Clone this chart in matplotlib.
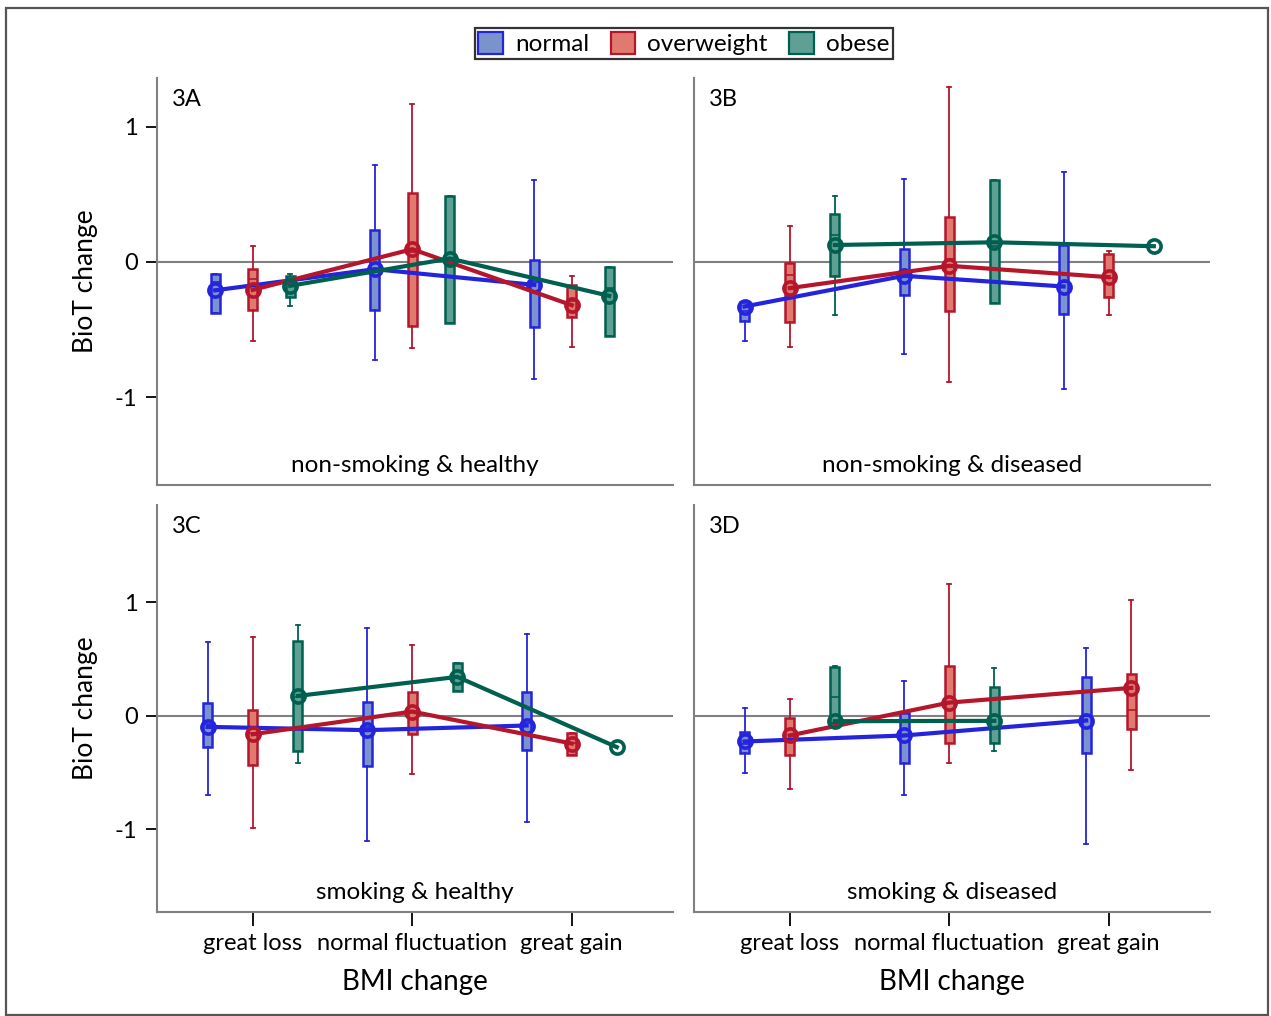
import matplotlib.pyplot as plt
from matplotlib.patches import Patch, Rectangle

plt.rcParams['font.family'] = ['Lato', 'DejaVu Sans']

categories = ['great loss', 'normal fluctuation', 'great gain']
groups = ['normal', 'overweight', 'obese']
panel_ids = ['3A', '3B', '3C', '3D']
panel_titles = ['non-smoking & healthy', 'non-smoking & diseased',
                'smoking & healthy', 'smoking & diseased']

# box stats per panel / group / category: (whislo, q1, med, q3, whishi)
# None = no box drawn (single point or no data)
box_A_normal = [(-0.38, -0.38, -0.15, -0.09, -0.09), (-0.725, -0.356, -0.05, 0.234, 0.714), (-0.863, -0.484, -0.15, 0.012, 0.605)]
box_A_over = [(-0.585, -0.356, -0.13, -0.054, 0.118), (-0.635, -0.472, 0.07, 0.512, 1.169), (-0.627, -0.406, -0.29, -0.17, -0.108)]
box_A_obese = [(-0.327, -0.256, -0.157, -0.108, -0.086), (-0.45, -0.45, 0.0, 0.485, 0.485), (-0.548, -0.548, -0.19, -0.037, -0.037)]
mean_A_normal = [-0.21, -0.054, -0.17]
mean_A_over = [-0.207, 0.094, -0.32]
mean_A_obese = [-0.177, 0.025, -0.251]

box_B_normal = [(-0.585, -0.44, -0.36, -0.3, -0.3), (-0.683, -0.246, -0.08, 0.096, 0.615), (-0.937, -0.386, -0.15, 0.125, 0.664)]
box_B_over = [(-0.627, -0.445, -0.1, -0.01, 0.263), (-0.888, -0.366, 0.02, 0.335, 1.294), (-0.396, -0.258, -0.12, 0.057, 0.081)]
box_B_obese = [(-0.396, -0.108, 0.2, 0.357, 0.485), (-0.307, -0.307, 0.12, 0.603, 0.603), None]
mean_B_normal = [-0.33, -0.103, -0.182]
mean_B_over = [-0.194, -0.029, -0.113]
mean_B_obese = [0.125, 0.145, 0.116]

box_C_normal = [(-0.699, -0.279, -0.07, 0.115, 0.655), (-1.107, -0.44, -0.1, 0.123, 0.778), (-0.934, -0.3, -0.06, 0.214, 0.725)]
box_C_over = [(-0.99, -0.432, -0.15, 0.05, 0.699), (-0.511, -0.159, 0.03, 0.214, 0.623), (-0.349, -0.349, -0.24, -0.147, -0.147)]
box_C_obese = [(-0.42, -0.314, 0.17, 0.661, 0.802), (0.22, 0.22, 0.344, 0.467, 0.467), None]
mean_C_normal = [-0.097, -0.126, -0.085]
mean_C_over = [-0.162, 0.038, -0.244]
mean_C_obese = [0.176, 0.344, -0.276]

box_D_normal = [(-0.508, -0.329, -0.25, -0.138, 0.073), (-0.699, -0.42, -0.17, 0.021, 0.311), (-1.13, -0.329, 0.0, 0.346, 0.596)]
box_D_over = [(-0.646, -0.341, -0.12, -0.015, 0.153), (-0.417, -0.241, 0.05, 0.443, 1.163), (-0.478, -0.12, 0.055, 0.373, 1.025)]
box_D_obese = [(-0.064, -0.064, 0.17, 0.429, 0.44), (-0.314, -0.238, 0.0, 0.253, 0.426), None]
mean_D_normal = [-0.226, -0.173, -0.041]
mean_D_over = [-0.173, 0.117, 0.247]
mean_D_obese = [-0.047, -0.044, None]

boxes = {
    '3A': [box_A_normal, box_A_over, box_A_obese],
    '3B': [box_B_normal, box_B_over, box_B_obese],
    '3C': [box_C_normal, box_C_over, box_C_obese],
    '3D': [box_D_normal, box_D_over, box_D_obese],
}
means = {
    '3A': [mean_A_normal, mean_A_over, mean_A_obese],
    '3B': [mean_B_normal, mean_B_over, mean_B_obese],
    '3C': [mean_C_normal, mean_C_over, mean_C_obese],
    '3D': [mean_D_normal, mean_D_over, mean_D_obese],
}

line_colors = ['#2424dc', '#b5162c', '#006050']
fill_colors = ['#7a93cd', '#e07a6e', '#5ea094']
step = {'3A': 0.235, '3B': 0.283, '3C': 0.283, '3D': 0.283}
ylims = [(-1.65, 1.36), (-1.65, 1.36), (-1.73, 1.86), (-1.73, 1.86)]

fig = plt.figure(figsize=(12.71, 10.16), dpi=100)
fig.patches.append(Rectangle((0.005, 0.001), 0.993, 0.991, transform=fig.transFigure,
                             fill=False, edgecolor='#555555', linewidth=1.6))

lefts = [157 / 1271, 694 / 1271, 157 / 1271, 694 / 1271]
bottoms = [1 - 485 / 1016, 1 - 485 / 1016, 1 - 912 / 1016, 1 - 912 / 1016]
w, h = 516 / 1271, 407 / 1016

for k, pid in enumerate(panel_ids):
    ax = fig.add_axes([lefts[k], bottoms[k], w, h])
    # positions: boxes of a category centred on its tick
    pos = [[None] * 3 for _ in groups]
    for c in range(3):
        present = [g for g in range(3) if means[pid][g][c] is not None]
        n = len(present)
        for i, g in enumerate(present):
            pos[g][c] = c + 1 + (i - (n - 1) / 2) * step[pid]

    ax.axhline(0, color='#808080', lw=1.5, zorder=1)
    for g in range(3):
        stats, bpos = [], []
        for c in range(3):
            b = boxes[pid][g][c]
            if b is None:
                continue
            stats.append(dict(whislo=b[0], q1=b[1], med=b[2], q3=b[3], whishi=b[4], fliers=[]))
            bpos.append(pos[g][c])
        lc, fc = line_colors[g], fill_colors[g]
        ax.bxp(stats, positions=bpos, widths=0.057, patch_artist=True, showfliers=False,
               capwidths=0.025, manage_ticks=False,
               boxprops=dict(facecolor=fc, edgecolor=lc, linewidth=1.8),
               medianprops=dict(color=lc, linewidth=1.2),
               whiskerprops=dict(color=lc, linewidth=1.3),
               capprops=dict(color=lc, linewidth=1.3), zorder=2)
        xs = [pos[g][c] for c in range(3) if means[pid][g][c] is not None]
        ys = [means[pid][g][c] for c in range(3) if means[pid][g][c] is not None]
        ax.plot(xs, ys, color=lc, lw=3, marker='o', ms=9.5, mfc='none', mew=2.6, zorder=4)

    ax.set_xlim(0.4, 3.635)
    ax.set_ylim(*ylims[k])
    for s in ['top', 'right']:
        ax.spines[s].set_visible(False)
    for s in ['left', 'bottom']:
        ax.spines[s].set_color('#808080')
        ax.spines[s].set_linewidth(1.5)

    ax.text(0.029, 0.946, pid, transform=ax.transAxes, fontsize=17, va='center', ha='left')
    ax.text(0.5, 0.048, panel_titles[k], transform=ax.transAxes, fontsize=17.5, va='center', ha='center')

    if k % 2 == 0:
        ax.set_yticks([-1, 0, 1])
        ax.set_yticklabels(['-1', '0', '1'], fontsize=17)
        ax.tick_params(axis='y', length=8, width=1.3, pad=6)
        ax.set_ylabel('BioT change', fontsize=19, labelpad=12)
    else:
        ax.set_yticks([])
    if k >= 2:
        ax.set_xticks([1, 2, 3])
        ax.set_xticklabels(categories, fontsize=17)
        ax.tick_params(axis='x', length=10, width=1.3, pad=5)
        ax.set_xlabel('BMI change', fontsize=20, labelpad=11)
    else:
        ax.set_xticks([])

handles = [Patch(facecolor=fill_colors[g], edgecolor=line_colors[g], linewidth=1.6, label=groups[g])
           for g in range(3)]
leg = fig.legend(handles=handles, loc='center', bbox_to_anchor=(0.538, 0.957), ncol=3, fontsize=17.5,
                 frameon=True, fancybox=False, edgecolor='black', handlelength=1.0, handleheight=1.0,
                 handletextpad=0.5, columnspacing=0.9, borderpad=0.15)
leg.get_frame().set_linewidth(1.6)

fig.savefig('out.png', dpi=100)
